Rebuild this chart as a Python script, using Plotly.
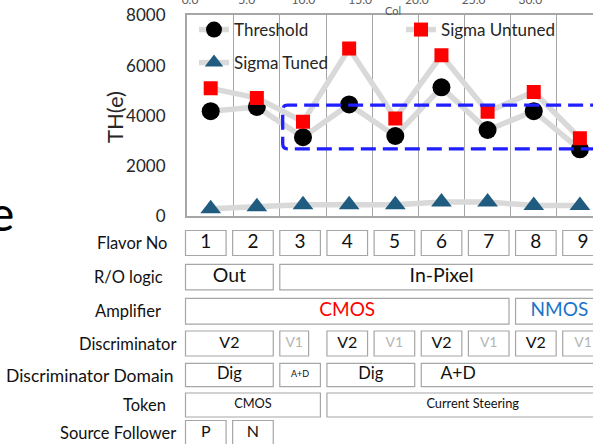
import plotly.graph_objects as go

W, H = 593, 444
FONT = "Lato"

# ---- measured series -------------------------------------------------------
flavors = [1, 2, 3, 4, 5, 6, 7, 8, 9]
threshold = [4180, 4350, 3140, 4450, 3190, 5130, 3430, 4180, 2660]
sigma_untuned = [5090, 4710, 3760, 6680, 3890, 6410, 4160, 4950, 3100]
sigma_tuned = [290, 370, 450, 450, 450, 560, 560, 420, 420]

col_ticks = [0, 5, 10, 15, 20, 25, 30, 35]
y_ticks = [0, 2000, 4000, 6000, 8000]

# threshold window highlighted for the in-pixel flavours
band_low, band_high = 2680, 4420

# ---- flavour table ---------------------------------------------------------
row_labels = ["Flavor No", "R/O logic", "Amplifier", "Discriminator",
              "Discriminator Domain", "Token", "Source Follower"]
flavor_cells = [(str(f), f, f) for f in flavors]
ro_cells = [("Out", 1, 2), ("In-Pixel", 3, 9)]
amp_cells = [("CMOS", 1, 7), ("NMOS", 8, 9)]
disc_cells = [("V2", 1, 2), ("V1", 3, 3), ("V2", 4, 4), ("V1", 5, 5),
              ("V2", 6, 6), ("V1", 7, 7), ("V2", 8, 8), ("V1", 9, 9)]
domain_cells = [("Dig", 1, 2), ("A+D", 3, 3), ("Dig", 4, 5), ("A+D", 6, 9)]
token_cells = [("CMOS", 1, 3), ("Current Steering", 4, 9)]
sf_cells = [("P", 1, 1), ("N", 2, 2)]
table_rows = [flavor_cells, ro_cells, amp_cells, disc_cells,
              domain_cells, token_cells, sf_cells]

# ---- layout constants (pixels) ---------------------------------------------
PLOT_L, PLOT_T, PLOT_B = 186.7, 15.4, 216.0
ROW_Y = [243.0, 277.2, 311.2, 343.5, 375.0, 405.0, 433.0]
ROW_H = [25.0, 25.5, 25.7, 25.0, 23.4, 24.0, 25.0]
LABEL_RIGHT = [169, 165, 163, 178, 176, 167.5, 178]
LABEL_SIZE = [16.5, 16.5, 16.5, 16.5, 17.5, 16.5, 16.5]
CELL_PITCH, CELL_W, CELL_X1 = 47.15, 40.6, 205.8   # table column geometry
PT_PITCH, PT_X1 = 46.15, 210.7                      # chart category geometry
# (row, first flavour) -> narrower box width / shifted text position
CELL_WIDTH_OVERRIDE = {(3, 3): 28.8}
TEXT_AT_OVERRIDE = {(4, 6): 6.35, (5, 4): 6.66}

GRID = "#a6a6a6"
SERIES_LINE = "#d9d9d9"
INK = "#111111"


def cell_style(row, text, a, b):
    if row == 0:
        return 19, INK
    if row in (1, 2):
        if row == 2:
            return 19, ("#ff0000" if text == "CMOS" else "#1a75c9")
        return 19.5, INK
    if row == 3:
        return (16, INK) if text == "V2" else (14, "#b5b5b5")
    if row == 4:
        if text == "A+D":
            return (9, INK) if a == b else (17.5, INK)
        return 16.5, INK
    if row == 5:
        return 12.8, INK
    return 16, INK


fig = go.Figure()

line_style = dict(color=SERIES_LINE, width=5.5)
fig.add_trace(go.Scatter(
    x=flavors, y=threshold, name="Threshold", mode="lines+markers",
    line=line_style, marker=dict(symbol="circle", size=18, color="black"),
    legend="legend"))
fig.add_trace(go.Scatter(
    x=flavors, y=sigma_untuned, name="Sigma Untuned", mode="lines+markers",
    line=line_style, marker=dict(symbol="square", size=14, color="#ff0000"),
    legend="legend2"))
fig.add_trace(go.Scatter(
    x=flavors, y=sigma_tuned, name="Sigma Tuned", mode="lines+markers",
    line=line_style, marker=dict(symbol="triangle-up", size=18, color="#1f5c80"),
    legend="legend3"))
# secondary "Col" scale along the top of the chart
fig.add_trace(go.Scatter(x=[col_ticks[0]], y=[None], xaxis="x2", yaxis="y",
                         showlegend=False, hoverinfo="skip"))

# table cells: boxes + text
tx, ty, tt, tsize, tcolor = [], [], [], [], []
shapes = []
half = CELL_W / 2 / CELL_PITCH
for r, cells in enumerate(table_rows):
    yc, h = ROW_Y[r], ROW_H[r]
    for text, a, b in cells:
        bx0 = a - half
        bx1 = b + half
        if (r, a) in CELL_WIDTH_OVERRIDE:
            bx1 = bx0 + CELL_WIDTH_OVERRIDE[(r, a)] / CELL_PITCH
        shapes.append(dict(
            type="rect", xref="x3", yref="y3", x0=bx0, x1=bx1,
            y0=yc - h / 2, y1=yc + h / 2,
            line=dict(color=GRID, width=1.2), layer="above"))
        s, c = cell_style(r, text, a, b)
        tx.append(TEXT_AT_OVERRIDE.get((r, a), (bx0 + bx1) / 2))
        ty.append(yc)
        tt.append(text)
        tsize.append(s)
        tcolor.append(c)

fig.add_trace(go.Scatter(
    x=tx, y=ty, text=tt, mode="text", textposition="middle center",
    textfont=dict(family=FONT, size=tsize, color=tcolor),
    xaxis="x3", yaxis="y3", showlegend=False, hoverinfo="skip"))

# highlighted threshold band (rounded dashed box)
x0 = 1 + (282.7 - PT_X1) / PT_PITCH
x1 = 10.5
rx = 5 / PT_PITCH
ry = 5 * 8000 / (PLOT_B - PLOT_T)
band_path = (f"M{x1},{band_high} L{x0 + rx},{band_high} "
             f"Q{x0},{band_high} {x0},{band_high - ry} "
             f"L{x0},{band_low + ry} Q{x0},{band_low} {x0 + rx},{band_low} "
             f"L{x1},{band_low}")
shapes.append(dict(type="path", xref="x", yref="y", path=band_path,
                   line=dict(color="#1f1fff", width=3.3, dash="15px,7px"),
                   layer="above"))

# axis ranges derived from pixel geometry
x_lo = 1 + (PLOT_L - PT_X1) / PT_PITCH
x_hi = 1 + (W - PT_X1) / PT_PITCH
c_px = (587 - 190) / 35.0
c_lo = -(190 - PLOT_L) / c_px
c_hi = c_lo + (W - PLOT_L) / c_px
t_lo = 1 - CELL_X1 / CELL_PITCH
t_hi = 1 + (W - CELL_X1) / CELL_PITCH

annotations = []
for r, lab in enumerate(row_labels):
    annotations.append(dict(
        text=lab, xref="paper", yref="paper", x=LABEL_RIGHT[r] / W,
        y=1 - ROW_Y[r] / H, xanchor="right", yanchor="middle", showarrow=False,
        font=dict(family=FONT, size=LABEL_SIZE[r], color=INK)))
annotations += [
    dict(text="TH(e)", xref="paper", yref="paper", x=115 / W, y=1 - 117 / H,
         textangle=-90, showarrow=False, xanchor="center", yanchor="middle",
         font=dict(family=FONT, size=22, color="#262626")),
    dict(text="Col", xref="paper", yref="paper", x=393 / W, y=1 - 11 / H,
         showarrow=False, xanchor="center", yanchor="middle",
         font=dict(family=FONT, size=11, color="#595959")),
    dict(text="e", xref="paper", yref="paper", x=16 / W, y=1 - 212 / H,
         showarrow=False, xanchor="right", yanchor="middle",
         font=dict(family=FONT, size=48, color="#000000")),
]

leg_common = dict(orientation="v", xanchor="left", yanchor="middle",
                  bgcolor="rgba(0,0,0,0)", borderwidth=0,
                  font=dict(family=FONT, size=17, color="#262626"))

fig.update_layout(
    width=W, height=H, margin=dict(l=0, r=0, t=0, b=0, autoexpand=False),
    paper_bgcolor="white", plot_bgcolor="rgba(0,0,0,0)",
    font=dict(family=FONT),
    xaxis=dict(domain=[PLOT_L / W, 1], anchor="y", range=[x_lo, x_hi],
               tick0=0.5, dtick=1, showgrid=True, gridcolor=GRID, gridwidth=1.3,
               showticklabels=False, ticks="", zeroline=False, automargin=False,
               showline=True, linecolor=GRID, linewidth=2),
    xaxis2=dict(overlaying="x", side="top", anchor="y", range=[c_lo, c_hi],
                tickvals=col_ticks, tickformat=".1f", showgrid=False,
                zeroline=False, showline=True, linecolor=GRID, linewidth=1.5,
                ticks="", ticklabelstandoff=5, automargin=False,
                tickfont=dict(family=FONT, size=12, color="#595959")),
    yaxis=dict(domain=[1 - PLOT_B / H, 1 - PLOT_T / H], anchor="x",
               range=[0, 8000], tickvals=y_ticks, showgrid=False,
               zeroline=False, showline=True, linecolor=GRID, linewidth=1.5,
               ticks="", ticklabelstandoff=16, automargin=False,
               tickfont=dict(family=FONT, size=17, color="#262626")),
    xaxis3=dict(domain=[0, 1], anchor="y3", range=[t_lo, t_hi], visible=False,
                automargin=False),
    yaxis3=dict(domain=[0, 1], anchor="x3", range=[H, 0], visible=False,
                automargin=False),
    legend=dict(x=194 / W, y=1 - 30 / H, **leg_common),
    legend2=dict(x=401 / W, y=1 - 30 / H, **leg_common),
    legend3=dict(x=194 / W, y=1 - 63 / H, **leg_common),
    shapes=shapes,
    annotations=annotations,
    showlegend=True,
)

fig.write_html("out.html")
